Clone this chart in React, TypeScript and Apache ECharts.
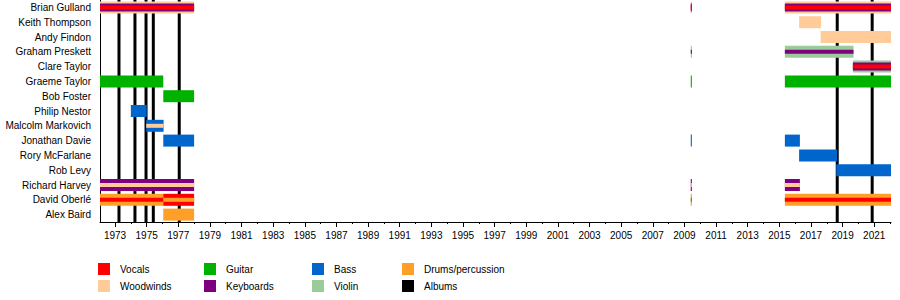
import React, { useEffect, useRef } from "react";
import * as echarts from "echarts";

const START = 1972.05;
const END = 2022.06;

const members = [
  "Brian Gulland",
  "Keith Thompson",
  "Andy Findon",
  "Graham Preskett",
  "Clare Taylor",
  "Graeme Taylor",
  "Bob Foster",
  "Philip Nestor",
  "Malcolm Markovich",
  "Jonathan Davie",
  "Rory McFarlane",
  "Rob Levy",
  "Richard Harvey",
  "David Oberlé",
  "Alex Baird",
];

const instruments = ["Vocals", "Woodwinds", "Guitar", "Keyboards", "Bass", "Violin", "Drums/percussion"];

// [member, from, till, roles (outer → inner)]
const periods: [string, number, number, string[]][] = [
  ["Brian Gulland", START, 1978.0, ["Woodwinds", "Keyboards", "Vocals"]],
  ["Brian Gulland", 2009.4, 2009.47, ["Woodwinds", "Keyboards", "Vocals"]],
  ["Brian Gulland", 2015.35, END, ["Woodwinds", "Keyboards", "Vocals"]],
  ["Keith Thompson", 2016.25, 2017.64, ["Woodwinds"]],
  ["Andy Findon", 2017.61, END, ["Woodwinds"]],
  ["Graham Preskett", 2009.4, 2009.47, ["Violin", "Keyboards"]],
  ["Graham Preskett", 2015.35, 2019.69, ["Violin", "Keyboards"]],
  ["Clare Taylor", 2019.65, END, ["Violin", "Keyboards", "Vocals"]],
  ["Graeme Taylor", START, 1976.05, ["Guitar"]],
  ["Graeme Taylor", 2009.4, 2009.47, ["Guitar"]],
  ["Graeme Taylor", 2015.35, END, ["Guitar"]],
  ["Bob Foster", 1976.05, 1978.0, ["Guitar"]],
  ["Philip Nestor", 1974.0, 1975.0, ["Bass"]],
  ["Malcolm Markovich", 1974.97, 1976.07, ["Bass", "Woodwinds"]],
  ["Jonathan Davie", 1976.05, 1978.0, ["Bass"]],
  ["Jonathan Davie", 2009.4, 2009.47, ["Bass"]],
  ["Jonathan Davie", 2015.35, 2016.3, ["Bass"]],
  ["Rory McFarlane", 2016.25, 2018.66, ["Bass"]],
  ["Rob Levy", 2018.6, END, ["Bass"]],
  ["Richard Harvey", START, 1978.0, ["Keyboards", "Woodwinds"]],
  ["Richard Harvey", 2009.4, 2009.47, ["Keyboards", "Woodwinds"]],
  ["Richard Harvey", 2015.35, 2016.3, ["Keyboards", "Woodwinds"]],
  ["David Oberlé", START, 1976.05, ["Drums/percussion", "Vocals"]],
  ["David Oberlé", 1976.05, 1978.0, ["Vocals", "Drums/percussion"]],
  ["David Oberlé", 2009.4, 2009.47, ["Drums/percussion", "Guitar"]],
  ["David Oberlé", 2015.35, END, ["Drums/percussion", "Vocals"]],
  ["Alex Baird", 1976.05, 1978.0, ["Drums/percussion"]],
];

const albums = [1973.25, 1974.26, 1974.96, 1975.42, 1977.06, 2018.66, 2020.87];

const majorTicks = [1973, 1975, 1977, 1979, 1981, 1983, 1985, 1987, 1989, 1991, 1993, 1995, 1997, 1999, 2001, 2003, 2005, 2007, 2009, 2011, 2013, 2015, 2017, 2019, 2021];
const minorTicks = [1972, 1973, 1974, 1975, 1976, 1977, 1978, 1979, 1980, 1981, 1982, 1983, 1984, 1985, 1986, 1987, 1988, 1989, 1990, 1991, 1992, 1993, 1994, 1995, 1996, 1997, 1998, 1999, 2000, 2001, 2002, 2003, 2004, 2005, 2006, 2007, 2008, 2009, 2010, 2011, 2012, 2013, 2014, 2015, 2016, 2017, 2018, 2019, 2020, 2021, 2022];

const legendItems = ["Vocals", "Woodwinds", "Guitar", "Keyboards", "Bass", "Violin", "Drums/percussion", "Albums"];

const COLORS: Record<string, string> = {
  Vocals: "#ff0000",
  Woodwinds: "#ffcc99",
  Guitar: "#00b200",
  Keyboards: "#7f007f",
  Bass: "#0066cc",
  Violin: "#99cc99",
  "Drums/percussion": "#ff9f28",
  Albums: "#000000",
};

const FONT = "'Liberation Sans', Arial, sans-serif";
const LAYER_H: Record<number, number[]> = { 1: [12], 2: [12, 4], 3: [12, 8, 4] };

export default function App() {
  const ref = useRef<HTMLDivElement>(null);

  useEffect(() => {
    if (!ref.current) return;
    const chart = echarts.init(ref.current, null, { renderer: "svg" });

    const barData: number[][] = [];
    for (let layer = 0; layer < 3; layer++) {
      periods.forEach(([m, s, e, roles]) => {
        if (roles.length > layer) {
          barData.push([s, e, members.indexOf(m), instruments.indexOf(roles[layer]), layer, roles.length]);
        }
      });
    }

    const colX = [98, 204, 312, 402];
    const rowY = [263, 280];
    const legendGraphics: any[] = [];
    legendItems.forEach((name, i) => {
      const c = Math.floor(i / 2);
      const r = i % 2;
      legendGraphics.push({
        type: "rect",
        shape: { x: colX[c], y: rowY[r], width: 12, height: 12 },
        style: { fill: COLORS[name] },
      });
      legendGraphics.push({
        type: "text",
        x: colX[c] + 22,
        y: rowY[r] + 6,
        style: { text: name, fill: "#000", font: `10px ${FONT}`, verticalAlign: "middle", align: "left" },
      });
    });

    const baseX = { type: "value", min: START, max: END, position: "bottom", gridIndex: 0 };

    chart.setOption({
      animation: false,
      backgroundColor: "#ffffff",
      grid: { left: 100, right: 9, top: -2, bottom: 78, containLabel: false },
      xAxis: [
        {
          ...baseX,
          axisLine: { show: true, lineStyle: { color: "#000", width: 1 } },
          axisTick: { show: true, length: 5, customValues: majorTicks, lineStyle: { color: "#000" } },
          axisLabel: { show: true, customValues: majorTicks, fontSize: 10, color: "#000", fontFamily: FONT, margin: 8, formatter: (v: number) => String(v) },
          splitLine: { show: false },
        },
        {
          ...baseX,
          axisLine: { show: false },
          axisTick: { show: true, length: 2, customValues: minorTicks, lineStyle: { color: "#000" } },
          axisLabel: { show: false },
          splitLine: { show: false },
        },
      ],
      yAxis: {
        type: "category",
        data: members,
        inverse: true,
        axisLine: { show: true, lineStyle: { color: "#000", width: 1 } },
        axisTick: { show: false },
        axisLabel: { fontSize: 10, color: "#000", fontFamily: FONT, margin: 9 },
        splitLine: { show: false },
      },
      series: [
        {
          type: "custom",
          name: "Albums",
          z: 1,
          xAxisIndex: 0,
          encode: { x: 0, y: 1 },
          data: albums.map((a) => [a, 0]),
          renderItem: (params: any, api: any) => {
            const x = api.coord([api.value(0), 0])[0];
            const cs = params.coordSys;
            return {
              type: "line",
              shape: { x1: x, y1: cs.y, x2: x, y2: cs.y + cs.height },
              style: { stroke: "#000", lineWidth: 3 },
            };
          },
        },
        {
          type: "custom",
          name: "Members",
          z: 2,
          xAxisIndex: 0,
          encode: { x: [0, 1], y: 2 },
          data: barData,
          renderItem: (params: any, api: any) => {
            const s = api.coord([api.value(0), api.value(2)]);
            const e = api.coord([api.value(1), api.value(2)]);
            const h = LAYER_H[api.value(5)][api.value(4)];
            return {
              type: "rect",
              shape: { x: s[0], y: s[1] - h / 2, width: e[0] - s[0], height: h },
              style: { fill: COLORS[instruments[api.value(3)]] },
            };
          },
        },
      ],
      graphic: legendGraphics,
    });

    return () => chart.dispose();
  }, []);

  return (
    <div
      ref={ref}
      style={{ position: "absolute", left: 0, top: 0, width: 900, height: 300, background: "#fff" }}
    />
  );
}
